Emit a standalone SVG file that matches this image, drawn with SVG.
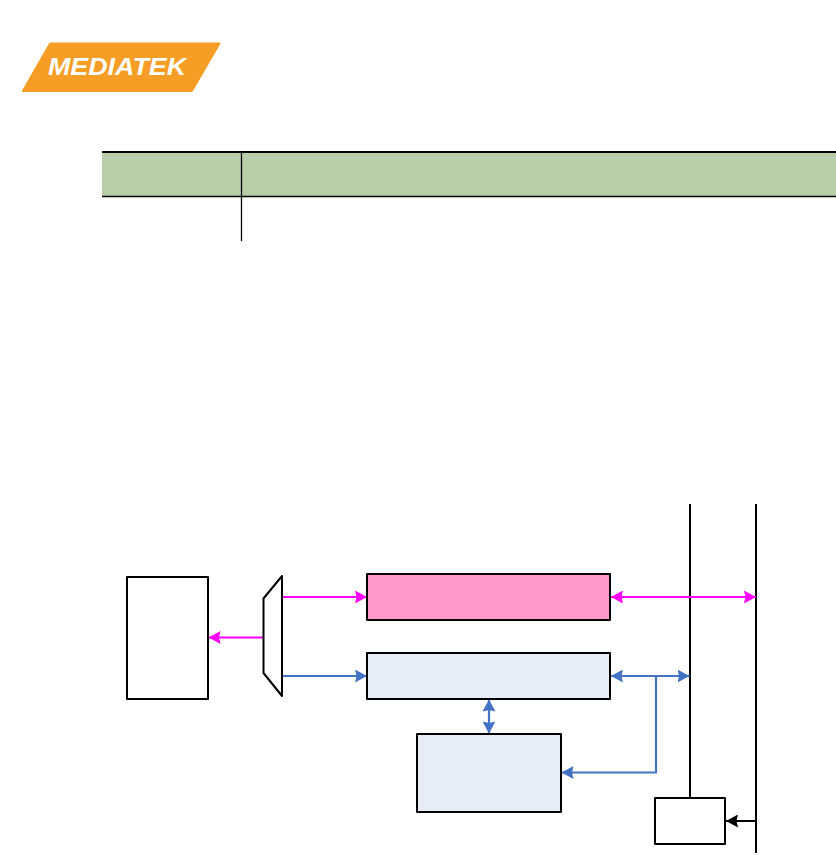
<svg xmlns="http://www.w3.org/2000/svg" width="836" height="855" viewBox="0 0 836 855">
<style>
.box{stroke:#000;stroke-width:2;stroke-linejoin:round}
.bus{stroke:#000;stroke-width:2;fill:none}
.m{stroke:#f0f;stroke-width:2.200;fill:none}
.b{stroke:#4472c4;stroke-width:2.200;fill:none}
.k{stroke:#000;stroke-width:2;fill:none}
</style>
<defs>
<marker id="am" viewBox="0 0 12 13" refX="12" refY="6.500" markerUnits="userSpaceOnUse" markerWidth="12" markerHeight="13" orient="auto-start-reverse"><path d="M0 0L12 6.500L0 13L1.500 6.500Z" fill="#f0f"/></marker>
<marker id="ab" viewBox="0 0 12 13" refX="12" refY="6.500" markerUnits="userSpaceOnUse" markerWidth="12" markerHeight="13" orient="auto-start-reverse"><path d="M0 0L12 6.500L0 13L1.500 6.500Z" fill="#4472c4"/></marker>
<marker id="ak" viewBox="0 0 12 13" refX="12" refY="6.500" markerUnits="userSpaceOnUse" markerWidth="12" markerHeight="13" orient="auto-start-reverse"><path d="M0 0L12 6.500L0 13L1.500 6.500Z" fill="#000"/></marker>
</defs>
<rect width="836" height="855" fill="#fff"/>
<g id="logo">
<path d="M50.500 42.500H219.500Q221 42.500 220.300 44L193 91Q192.500 92 191 92H23Q21.300 92 22 90.500L49 43.500Q49.500 42.500 50.500 42.500Z" fill="#f59d24"/>
<text x="48" y="75" font-family="'Liberation Sans',sans-serif" font-size="24" font-weight="700" font-style="italic" fill="#fff" textLength="138" lengthAdjust="spacingAndGlyphs">MEDIATEK</text>
</g>
<g id="table">
<rect x="102" y="152" width="734" height="44" fill="#b7cea9"/>
<path d="M102 152H836" stroke="#000" stroke-width="2" fill="none"/>
<path d="M102 196.500H836M241.500 152V241" stroke="#000" stroke-width="1.300" fill="none"/>
</g>
<g id="connectors">
<path class="bus" d="M690 504V798"/>
<path class="bus" d="M756 504V853"/>
<path class="m" d="M282 597H367" marker-end="url(#am)"/>
<path class="m" d="M263 637.500H208.500" marker-end="url(#am)"/>
<path class="m" d="M611 597H756" marker-start="url(#am)" marker-end="url(#am)"/>
<path class="b" d="M282 676H367" marker-end="url(#ab)"/>
<path class="b" d="M611 676H689.500" marker-start="url(#ab)" marker-end="url(#ab)"/>
<path class="b" d="M656 676V772.500H561.500" marker-end="url(#ab)"/>
<path class="b" d="M489 699.500V733.500" marker-start="url(#ab)" marker-end="url(#ab)"/>
<path class="k" d="M756 821H726" marker-end="url(#ak)"/>
</g>
<g id="memory"><rect class="box" x="127" y="577" width="81" height="122" fill="#fff"/></g>
<g id="mux"><path class="box" d="M263.500 598.500L282 576V696L263.500 673Z" fill="#fff"/></g>
<g id="pink-block"><rect class="box" x="367" y="574" width="243" height="46" fill="#ff99cc"/></g>
<g id="blue-block"><rect class="box" x="367" y="653" width="243" height="46" fill="#e6edf7"/></g>
<g id="lower-block"><rect class="box" x="417" y="734" width="144" height="78" fill="#e6edf7"/></g>
<g id="small-block"><rect class="box" x="655" y="798" width="70" height="46" fill="#fff"/></g>
</svg>
